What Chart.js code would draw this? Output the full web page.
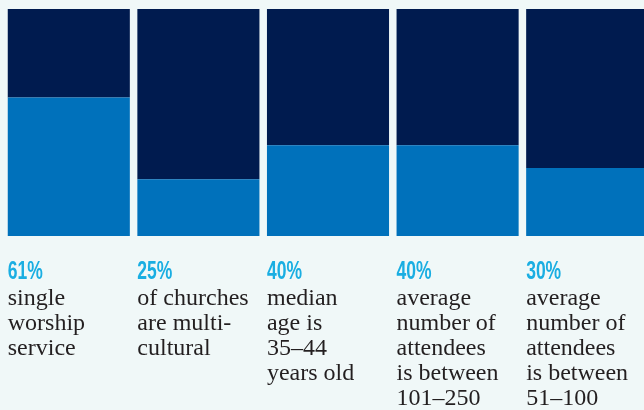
<!DOCTYPE html>
<html>
<head>
<meta charset="utf-8">
<script src="https://cdn.jsdelivr.net/npm/chart.js@4"></script>
<style>
  html, body { margin: 0; padding: 0; background: #f0f8f8; overflow: hidden; }
  #wrap { position: relative; width: 652px; height: 410px; }
</style>
</head>
<body>
<div id="wrap"><canvas id="myChart"></canvas></div>
<script>
// chart data
const categories = ['single', 'multicultural', 'median age', 'attendees 101-250', 'attendees 51-100'];
const shareValues = [61, 25, 40, 40, 30];
const restValues = [39, 75, 60, 60, 70];
const percentLabels = ['61%', '25%', '40%', '40%', '30%'];
const descriptions = [
  ['single', 'worship', 'service'],
  ['of churches', 'are multi-', 'cultural'],
  ['median', 'age is', '35–44', 'years old'],
  ['average', 'number of', 'attendees', 'is between', '101–250'],
  ['average', 'number of', 'attendees', 'is between', '51–100']
];

// draw the text block under each bar
const columnText = {
  id: 'columnText',
  afterDraw(chart) {
    const ctx = chart.ctx;
    const bars = chart.getDatasetMeta(0).data;
    bars.forEach((bar, i) => {
      const left = bar.x - bar.width / 2;
      ctx.save();
      ctx.fillStyle = '#1aaee2';
      ctx.textBaseline = 'alphabetic';
      ctx.font = 'bold 25px "Liberation Sans", Arial, sans-serif';
      ctx.translate(left, 279);
      ctx.scale(0.7, 1);
      ctx.fillText(percentLabels[i], 0, 0);
      ctx.restore();

      ctx.save();
      ctx.fillStyle = '#231f20';
      ctx.font = '24px "Liberation Serif", "Times New Roman", serif';
      descriptions[i].forEach((line, j) => {
        ctx.fillText(line, left, 305 + j * 25);
      });
      ctx.restore();
    });
  }
};

const ctx = document.getElementById('myChart').getContext('2d');
const myChart = new Chart(ctx, {
  type: 'bar',
  data: {
    labels: categories,
    datasets: [{
      label: 'Share',
      data: shareValues,
      backgroundColor: '#0071bb',
      barPercentage: 0.942,
      categoryPercentage: 1
    }, {
      label: 'Rest',
      data: restValues,
      backgroundColor: '#001b4f',
      barPercentage: 0.942,
      categoryPercentage: 1
    }]
  },
  options: {
    responsive: true,
    maintainAspectRatio: false,
    animation: false,
    layout: { padding: { top: 9, bottom: 174, left: 4, right: 0 } },
    plugins: { legend: { display: false }, tooltip: { enabled: false } },
    scales: {
      x: { stacked: true, display: false },
      y: { stacked: true, display: false, min: 0, max: 100 }
    }
  },
  plugins: [columnText]
});
</script>
</body>
</html>
